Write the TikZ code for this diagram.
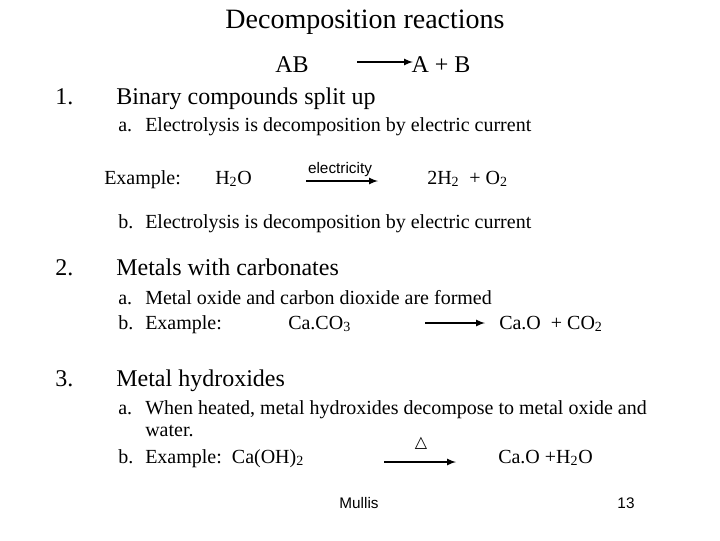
\documentclass[tikz,border=0pt]{standalone}
\usepackage{fontspec}
\setmainfont{Liberation Serif}
\newfontfamily\arialf{Liberation Sans}
\newfontfamily\djv{DejaVu Sans}
\newcommand{\sbs}[1]{\textsubscript{#1}}
\begin{document}
\begin{tikzpicture}[x=0.75pt,y=-0.75pt,
  big/.style={inner sep=0,font=\fontsize{21}{24}\selectfont},
  mid/.style={inner sep=0,font=\fontsize{18}{20}\selectfont,anchor=base west},
  sm/.style={inner sep=0,font=\fontsize{15}{17}\selectfont,anchor=base west},
  tiny/.style={inner sep=0,font=\arialf\fontsize{11.5}{13}\selectfont},
  arr/.style={-latex,line width=1.3pt}]
\useasboundingbox (0,0) rectangle (720,540);
\node[big] (t) at (365,22) {Decomposition reactions};
\node[mid,anchor=base] (ab) at (292,72) {AB};
\node[mid,anchor=base] (apb) at (441,72) {A + B};
\coordinate (a1s) at (357,62); \coordinate (a1e) at (413,62);
\draw[arr] (a1s) -- (a1e);
\node[mid] (n1) at (55,104) {1.};
\node[mid] (h1) at (116,104) {Binary compounds split up};
\node[sm] (l1a) at (118,131) {a.};
\node[sm] (t1a) at (145,131) {Electrolysis is decomposition by electric current};
\node[sm] (ex1) at (104,184) {Example:};
\node[sm] (h2o) at (215,184) {H\sbs{2}O};
\node[tiny] (el) at (340,170) {electricity};
\coordinate (a2s) at (306,181); \coordinate (a2e) at (378,181);
\draw[arr] (a2s) -- (a2e);
\node[sm] (pr1) at (427,184) {2H\sbs{2}\ \ + O\sbs{2}};
\node[sm] (l1b) at (118,228) {b.};
\node[sm] (t1b) at (145,228) {Electrolysis is decomposition by electric current};
\node[mid] (n2) at (55,275) {2.};
\node[mid] (h2) at (116,275) {Metals with carbonates};
\node[sm] (l2a) at (118,304) {a.};
\node[sm] (t2a) at (145,304) {Metal oxide and carbon dioxide are\ formed};
\node[sm] (l2b) at (118,329) {b.};
\node[sm] (t2b) at (145,329) {Example:};
\node[sm] (caco) at (288,329) {Ca.CO\sbs{3}};
\coordinate (a3s) at (425,323); \coordinate (a3e) at (485,323);
\draw[arr] (a3s) -- (a3e);
\node[sm] (pr2) at (499,329) {Ca.O\ \ + CO\sbs{2}};
\node[mid] (n3) at (55,386) {3.};
\node[mid] (h3) at (116,386) {Metal hydroxides};
\node[sm] (l3a) at (118,414) {a.};
\node[sm] (t3a) at (145,414) {When heated, metal hydroxides decompose to metal oxide and};
\node[sm] (t3a2) at (145,436) {water.};
\node[sm] (l3b) at (118,463) {b.};
\node[sm] (t3b) at (145,463) {Example:\ \ Ca(OH)\sbs{2}};
\node[inner sep=0,font=\djv\fontsize{12}{13}\selectfont] (dl) at (421,443) {△};
\coordinate (a4s) at (384,462); \coordinate (a4e) at (456,462);
\draw[arr] (a4s) -- (a4e);
\node[sm] (pr3) at (498,463) {Ca.O +H\sbs{2}O};
\node[tiny] (mu) at (359,503) {Mullis};
\node[tiny] (pg) at (626,503) {13};
\end{tikzpicture}
\end{document}
